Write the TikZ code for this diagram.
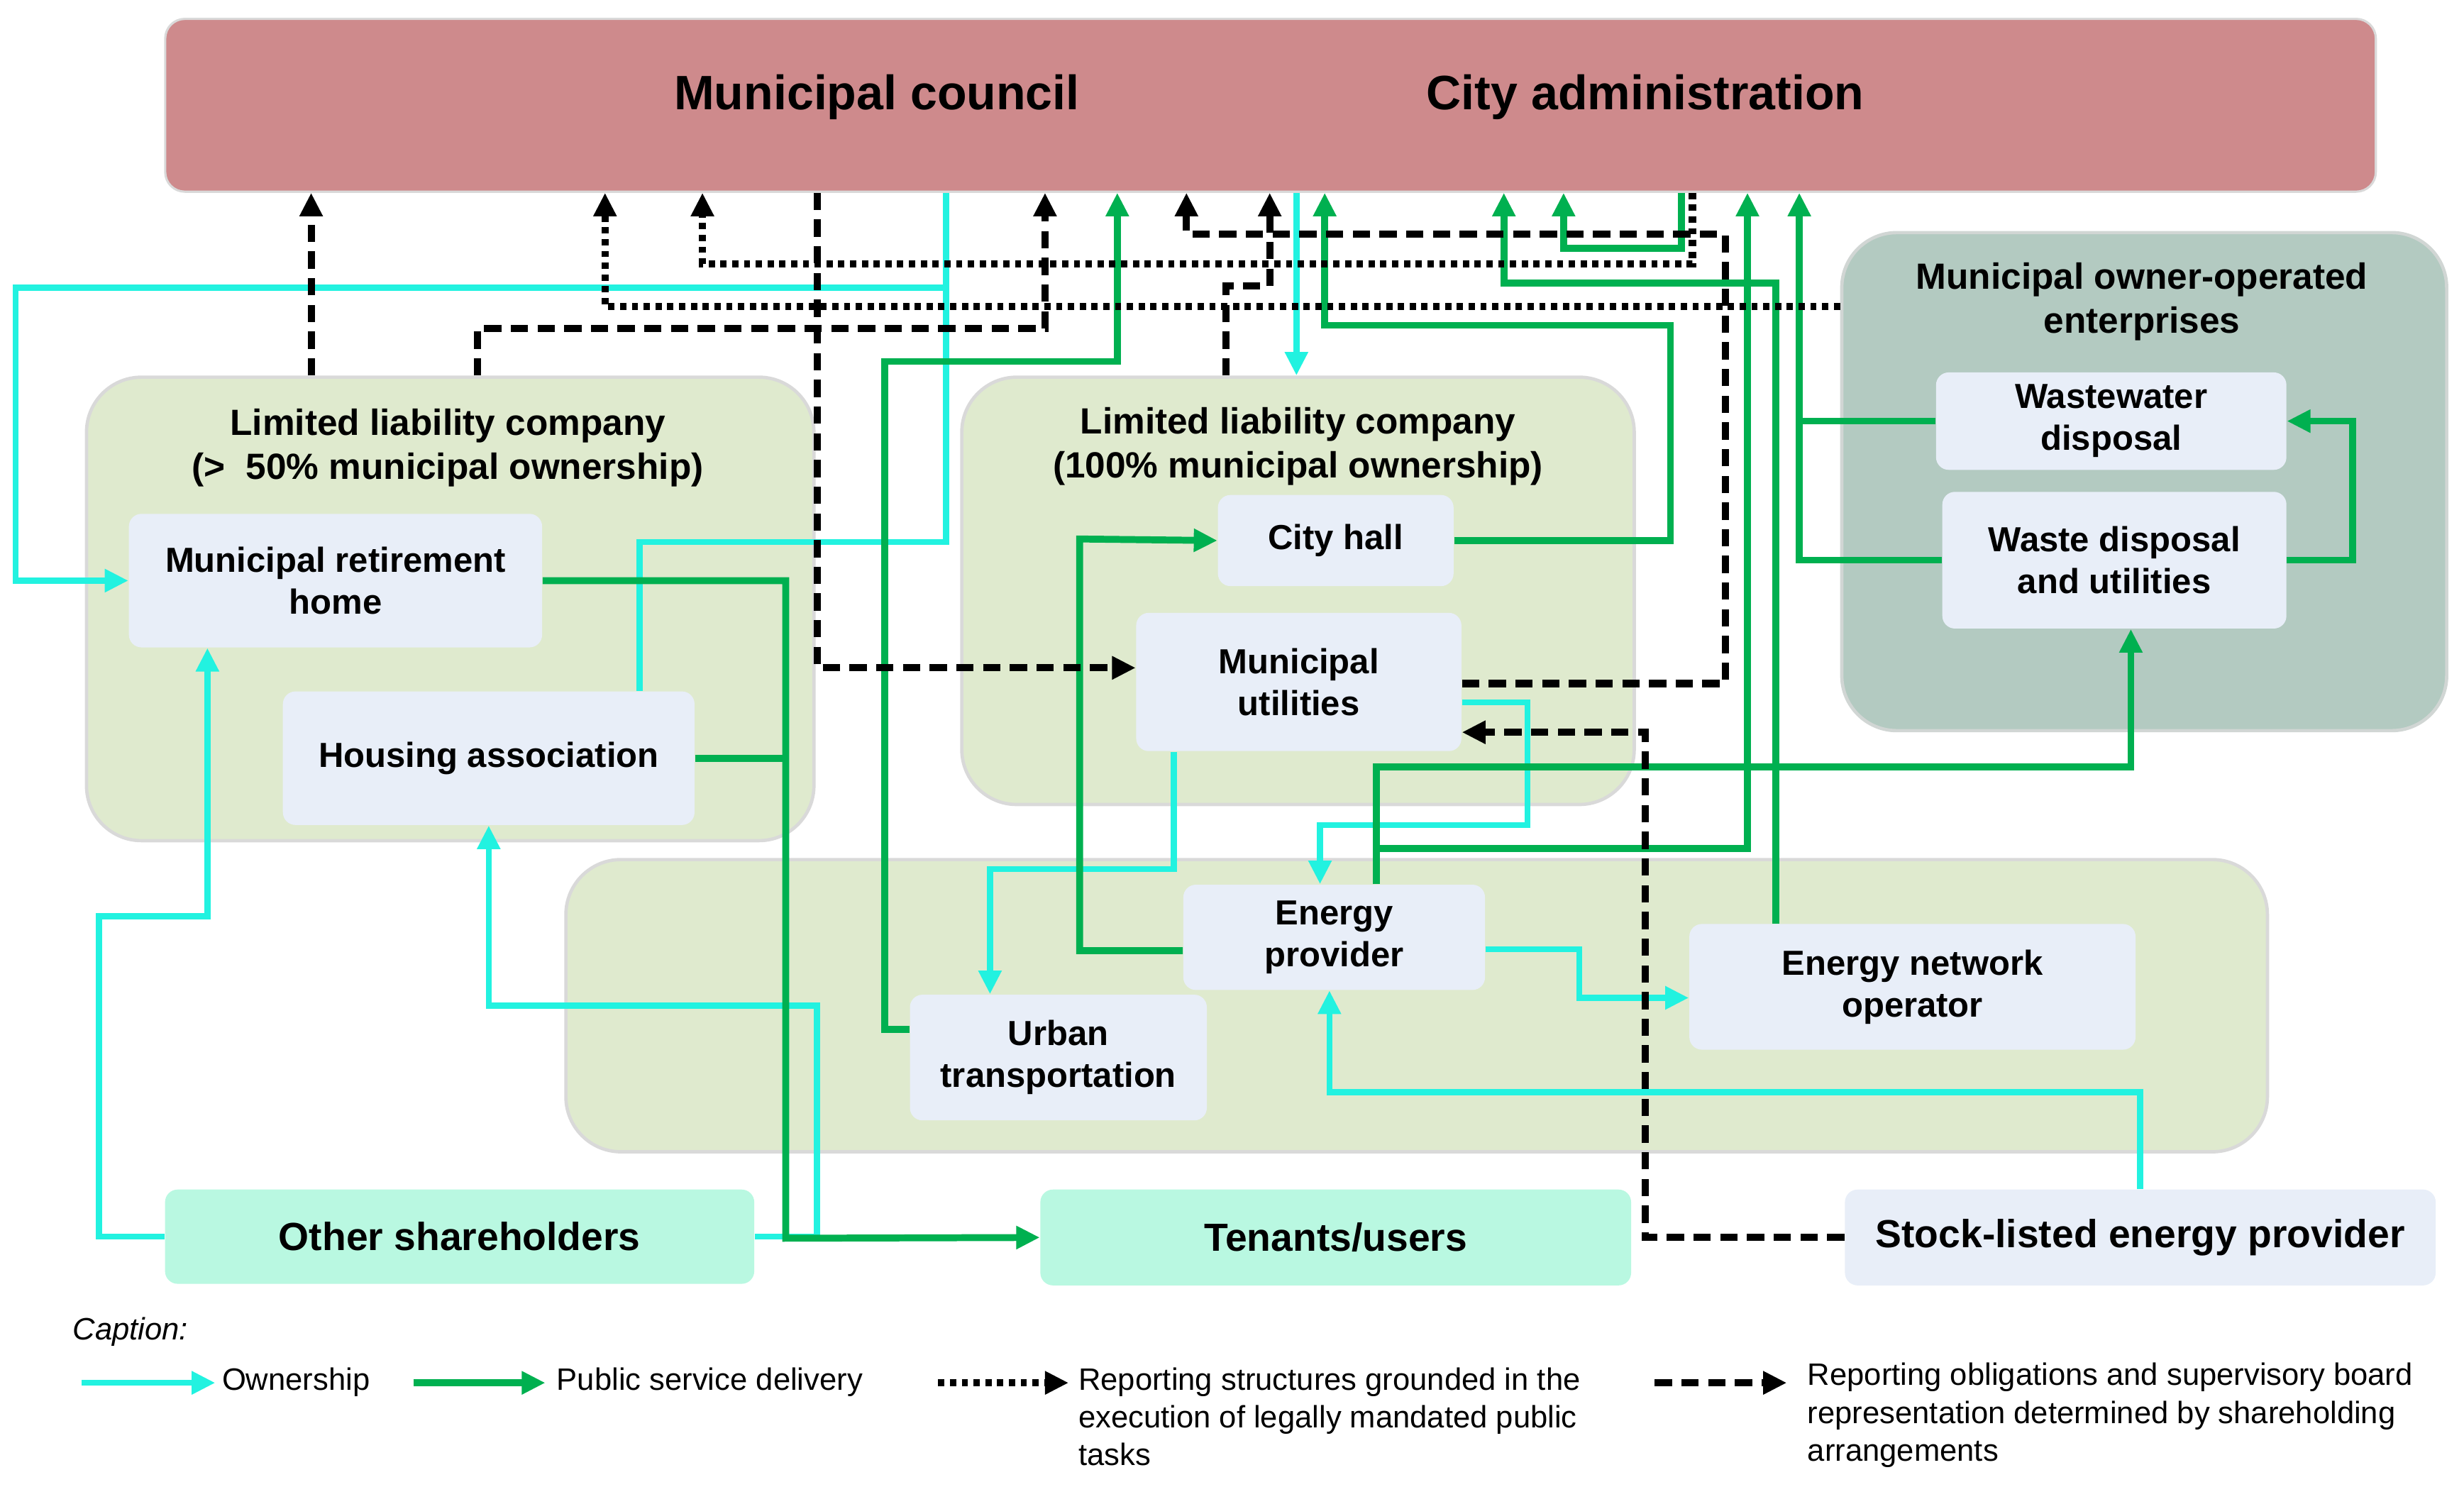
\documentclass[tikz,border=0pt]{standalone}
\usepackage{fontspec}
\setmainfont{Liberation Sans}
\usetikzlibrary{arrows.meta}
\definecolor{barc}{HTML}{CE8A8C}
\definecolor{grp}{HTML}{DFEACE}
\definecolor{grpd}{HTML}{B3CAC1}
\definecolor{nodec}{HTML}{E8EEF8}
\definecolor{mint}{HTML}{B9F8E1}
\definecolor{cyanc}{HTML}{22F2E0}
\definecolor{greenc}{HTML}{00B050}
\definecolor{bordc}{HTML}{D9D9D9}
\tikzset{
  box/.style={draw=none, fill=nodec, rounded corners=0.16cm, inner sep=0pt, align=center,
    font=\fontsize{12.6pt}{15.2pt}\selectfont\bfseries},
  bigbox/.style={box, font=\fontsize{14.2pt}{16pt}\selectfont\bfseries},
  grpbox/.style={draw=bordc, line width=1.2pt, fill=grp, rounded corners=0.7cm, inner sep=0pt},
  gtitle/.style={align=center, font=\fontsize{13.2pt}{16pt}\selectfont\bfseries},
  tip/.style={-{Triangle[length=0.3cm,width=0.28cm]}},
  own/.style={draw=cyanc, line width=2.2pt},
  psd/.style={draw=greenc, line width=2.5pt},
  rep/.style={draw=black, line width=2.6pt, dash pattern=on 0.08cm off 0.07cm},
  sup/.style={draw=black, line width=2.6pt, dash pattern=on 0.22cm off 0.12cm},
  captxt/.style={anchor=north west, align=left, font=\fontsize{11.2pt}{13.7pt}\selectfont, inner sep=0pt}
}
\begin{document}
\begin{tikzpicture}[x=0.02cm,y=-0.02cm]
\useasboundingbox (0,0) rectangle (1568,946);
% top bar
\node[fill=barc, draw=bordc, line width=0.8pt, rounded corners=0.25cm, minimum width=28.14cm, minimum height=2.2cm] (bar) at (808.5,67) {};
\node[font=\fontsize{17.5pt}{20pt}\selectfont\bfseries] (mc) at (558,62) {Municipal council};
\node[font=\fontsize{17.5pt}{20pt}\selectfont\bfseries] (ca) at (1047,62) {City administration};
% groups
\node[grpbox, minimum width=9.26cm, minimum height=5.9cm] (g1) at (286.5,387.5) {};
\node[grpbox, minimum width=8.56cm, minimum height=5.44cm] (g2) at (826,376) {};
\node[grpbox, minimum width=21.66cm, minimum height=3.72cm] (g3) at (901.5,640) {};
\node[grpbox, fill=grpd, draw=bordc!80!grpd, minimum width=7.7cm, minimum height=6.34cm] (g4) at (1364.5,306.5) {};
\node[gtitle] (t1) at (285,285) {Limited liability company\\(>\ \ 50\% municipal ownership)};
\node[gtitle] (t2) at (826,284) {Limited liability company\\(100\% municipal ownership)};
\node[gtitle] (t4) at (1363,192) {Municipal owner-operated\\enterprises};
% nodes
\node[box, minimum width=5.26cm, minimum height=1.7cm] (ret) at (213.5,369.5) {Municipal retirement\\home};
\node[box, minimum width=5.24cm, minimum height=1.7cm] (hous) at (311,482.5) {Housing association};
\node[box, minimum width=3.0cm, minimum height=1.16cm] (city) at (850,344) {City hall};
\node[box, minimum width=4.14cm, minimum height=1.76cm] (mutil) at (826.5,434) {Municipal\\utilities};
\node[box, minimum width=3.84cm, minimum height=1.34cm] (enp) at (849,596.5) {Energy\\provider};
\node[box, minimum width=3.78cm, minimum height=1.6cm] (urban) at (673.5,673) {Urban\\transportation};
\node[box, minimum width=5.68cm, minimum height=1.6cm] (eno) at (1217,628) {Energy network\\operator};
\node[box, minimum width=4.46cm, minimum height=1.24cm] (waste) at (1343.5,268) {Wastewater\\disposal};
\node[box, minimum width=4.38cm, minimum height=1.74cm] (wdu) at (1345.5,356.5) {Waste disposal\\and utilities};
\node[bigbox, fill=mint, minimum width=7.5cm, minimum height=1.2cm] (other) at (292.5,787) {Other shareholders};
\node[bigbox, fill=mint, minimum width=7.52cm, minimum height=1.22cm] (ten) at (850,787.5) {Tenants/users};
\node[bigbox, minimum width=7.52cm, minimum height=1.22cm] (stock) at (1362,787.5) {Stock-listed energy provider};
% ownership (cyan)
\draw[own, tip] (bar.south -| 602,0) -- (602,183) -- (10,183) |- (ret.west);
\draw[own] (hous.north -| 407,0) |- (602,345) -- (602,183);
\draw[own, tip] (bar.south -| 825,0) -- (g2.north -| 825,0);
\draw[own, tip] (other.west) -| (63,583) -| (ret.south -| 132,0);
\draw[own, tip] (other.east) -| (520,640) -| (hous.south);
\draw[own, tip] (mutil.south -| 747,0) |- (630,553) -- (urban.north -| 630,0);
\draw[own, tip] (mutil.east |- 0,447) -| (972,525) -| (enp.north -| 840,0);
\draw[own, tip] (enp.east |- 0,604) -| (1005,635) -- (eno.west |- 0,635);
\draw[own, tip] (stock.north) |- (846,695) -- (enp.south -| 846,0);
% public service delivery (green)
\draw[psd, tip] (ret.east) -| (500,788) -- (ten.west);
\draw[psd] (hous.east) -- (hous.east -| 500,0);
\draw[psd, tip] (urban.west |- 0,655) -| (563,230) -| (bar.south -| 711,0);
\draw[psd, tip] (enp.west |- 0,605) -| (687,343) -- (city.west);
\draw[psd, tip] (city.east) -| (1063,207) -| (bar.south -| 843,0);
\draw[psd, tip] (enp.north -| 876,0) |- (1356,488) -- (wdu.south -| 1356,0);
\draw[psd, tip] (876,540) -- (1112,540) -- (bar.south -| 1112,0);
\draw[psd, tip] (eno.north -| 1130,0) |- (957,180) -- (bar.south -| 957,0);
\draw[psd, tip] (bar.south -| 1070,0) |- (995,158) -- (bar.south -| 995,0);
\draw[psd, tip] (waste.west) -| (bar.south -| 1145,0);
\draw[psd] (wdu.west) -| (waste.west -| 1145,0);
\draw[psd, tip] (wdu.east) -| (1497,268) -- (waste.east);
% supervisory (dashed)
\draw[sup, tip] (g1.north -| 198,0) -- (bar.south -| 198,0);
\draw[sup, tip] (g1.north -| 304,0) |- (665,209) -- (bar.south -| 665,0);
\draw[sup, tip] (bar.south -| 520,0) |- (mutil.west |- 0,425);
\draw[sup, tip] (g2.north -| 780,0) |- (808,182) -- (bar.south -| 808,0);
\draw[sup, tip] (mutil.east |- 0,435) -| (1098,149) -| (bar.south -| 755,0);
\draw[sup, tip] (stock.west) -| (1047,466) -- (mutil.east |- 0,466);
% reporting (dotted)
\draw[rep, tip] (g4.west |- 0,195) -| (bar.south -| 385,0);
\draw[rep, tip] (bar.south -| 1077,0) |- (447,168) -- (bar.south -| 447,0);
% caption
\node[captxt, font=\fontsize{11.2pt}{13.7pt}\selectfont\itshape] (capt) at (46,838) {Caption:};
\coordinate (a1) at (52,880); \coordinate (b1) at (137,880);
\coordinate (a2) at (263,880); \coordinate (b2) at (347,880);
\coordinate (a3) at (597,880); \coordinate (b3) at (680,880);
\coordinate (a4) at (1053,880); \coordinate (b4) at (1137,880);
\draw[own, tip] (a1) -- (b1);
\draw[psd, tip] (a2) -- (b2);
\draw[rep, tip] (a3) -- (b3);
\draw[sup, tip] (a4) -- (b4);
\node[captxt] (l1) at (141,870) {Ownership};
\node[captxt] (l2) at (354,870) {Public service delivery};
\node[captxt] (l3) at (686,870) {Reporting structures grounded in the\\execution of legally mandated public\\tasks};
\node[captxt] (l4) at (1150,867) {Reporting obligations and supervisory board\\representation determined by shareholding\\arrangements};
\end{tikzpicture}
\end{document}
